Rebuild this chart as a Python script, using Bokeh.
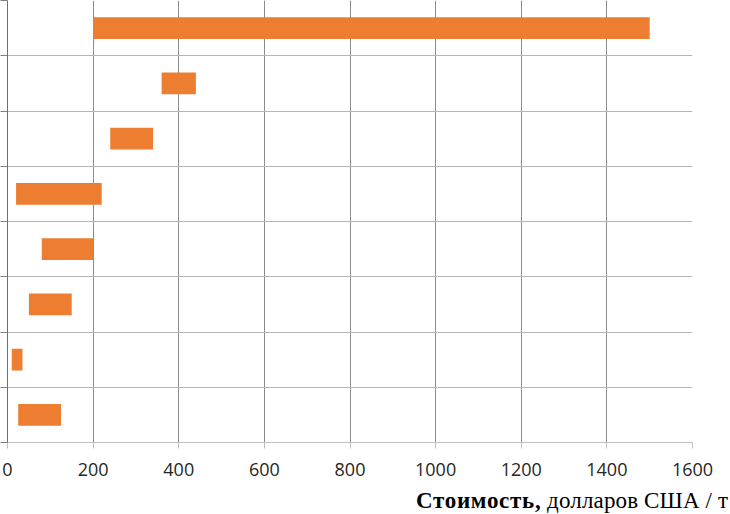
from bokeh.plotting import figure
from bokeh.models import Range1d, FixedTicker, Div, ColumnDataSource
from bokeh.layouts import column
from bokeh.embed import file_html
from bokeh.resources import INLINE

# Data (rows from top to bottom; category names are cut off in the reference)
rows = [1, 2, 3, 4, 5, 6, 7, 8]
cost_min = [200, 360, 240, 20, 80, 50, 10, 25]
cost_max = [1500, 440, 340, 220, 200, 150, 35, 125]
x_ticks = [0, 200, 400, 600, 800, 1000, 1200, 1400, 1600]
row_edges = [0.5, 1.5, 2.5, 3.5, 4.5, 5.5, 6.5, 7.5, 8.5]
title_bold = "Стоимость,"
title_rest = "долларов США / т"

src = ColumnDataSource(dict(y=rows, left=cost_min, right=cost_max))

p = figure(width=730, height=488, output_backend="svg", toolbar_location=None,
           x_range=Range1d(0, 1600), y_range=Range1d(8.5, 0.5),
           min_border_left=0, min_border_right=38, min_border_top=0, min_border_bottom=46)
p.outline_line_color = None
p.background_fill_color = "white"
p.border_fill_color = "white"

p.hbar(y="y", left="left", right="right", height=0.39, source=src,
       fill_color="#ED7D31", line_color=None)

# x axis
p.xaxis.ticker = FixedTicker(ticks=x_ticks)
p.xaxis.minor_tick_line_color = None
p.xaxis.major_tick_in = 0
p.xaxis.major_tick_out = 6
p.xaxis.major_tick_line_color = "#bfbfbf"
p.xaxis.axis_line_color = "#bfbfbf"
p.xaxis.major_label_text_font = "Open Sans"
p.xaxis.major_label_text_font_size = "18px"
p.xaxis.major_label_text_color = "#262626"
p.xaxis.major_label_standoff = 14

# y axis (category names are outside the visible area)
p.yaxis.ticker = FixedTicker(ticks=row_edges)
p.yaxis.major_label_overrides = {e: "" for e in row_edges}
p.yaxis.minor_tick_line_color = None
p.yaxis.major_tick_in = 0
p.yaxis.major_tick_out = 7
p.yaxis.major_tick_line_color = "#808080"
p.yaxis.axis_line_color = "#6e6e6e"
p.yaxis.major_label_standoff = 0

# grids
p.xgrid.ticker = FixedTicker(ticks=x_ticks[1:])
p.xgrid.grid_line_color = "#8c8c8c"
p.ygrid.ticker = FixedTicker(ticks=row_edges[:-1])
p.ygrid.grid_line_color = "#b4b4b4"

title = Div(text=(f'<span style="font-weight:bold;letter-spacing:0.7px">{title_bold}</span> '
                  f'<span style="letter-spacing:0.15px">{title_rest}</span>'),
            width=730, height=26,
            styles={"font-family": "Liberation Serif", "font-size": "23px",
                    "line-height": "16px", "color": "black", "padding-left": "411px",
                    "white-space": "nowrap"})

layout = column(p, title, spacing=0)
open("out.html", "w").write(file_html(layout, INLINE))
